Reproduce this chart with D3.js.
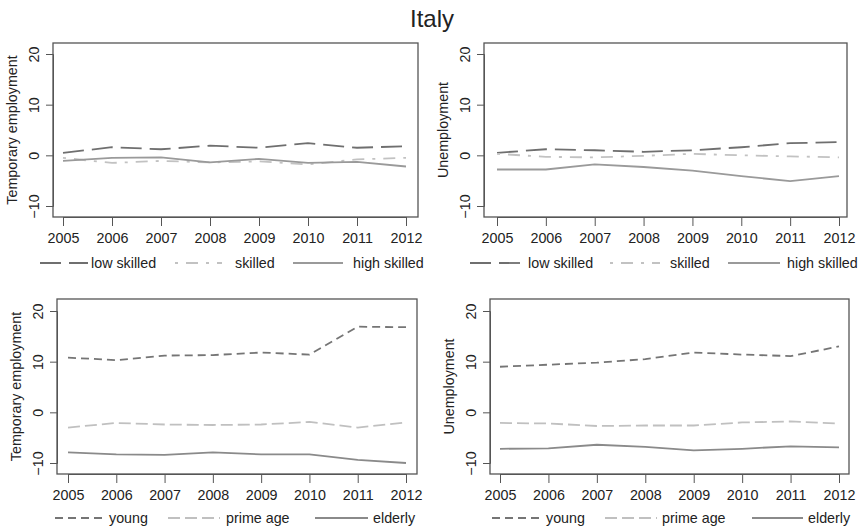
<!DOCTYPE html>
<html>
<head>
<meta charset="utf-8">
<script src="https://cdn.jsdelivr.net/npm/d3@7"></script>
<style>
  body { margin: 0; background: #fff; }
  text { font-family: "Liberation Sans", Arial, sans-serif; fill: #222; }
</style>
</head>
<body>
<div id="chart"></div>
<script>
var years = [2005, 2006, 2007, 2008, 2009, 2010, 2011, 2012];
var yTicks = [-10, 0, 10, 20];

// temporary employment by skill
var tempLow = [0.5, 1.6, 1.2, 1.9, 1.5, 2.4, 1.5, 1.8];
var tempSkilled = [-0.5, -1.5, -1.1, -1.4, -1.2, -1.8, -0.8, -0.5];
var tempHigh = [-1.1, -0.5, -0.4, -1.4, -0.7, -1.5, -1.3, -2.2];

// unemployment by skill
var unempLow = [0.5, 1.2, 1.0, 0.7, 1.0, 1.6, 2.4, 2.6];
var unempSkilled = [0.3, -0.3, -0.4, -0.1, 0.3, 0.0, -0.2, -0.4];
var unempHigh = [-2.8, -2.8, -1.8, -2.3, -3.0, -4.1, -5.1, -4.1];

// temporary employment by age
var tempYoung = [10.8, 10.3, 11.2, 11.3, 11.8, 11.4, 16.9, 16.8];
var tempPrime = [-3.0, -2.1, -2.4, -2.5, -2.4, -1.9, -3.0, -2.0];
var tempElderly = [-7.9, -8.3, -8.4, -7.9, -8.3, -8.3, -9.4, -10.0];

// unemployment by age
var unempYoung = [9.0, 9.4, 9.8, 10.5, 11.8, 11.4, 11.1, 13.0];
var unempPrime = [-2.1, -2.2, -2.7, -2.6, -2.6, -2.0, -1.8, -2.2];
var unempElderly = [-7.2, -7.1, -6.4, -6.8, -7.5, -7.2, -6.7, -6.9];

var skillNames = ["low skilled", "skilled", "high skilled"];
var ageNames = ["young", "prime age", "elderly"];

var width = 860, height = 528;
var fontSize = "14.3px";

var svg = d3.select("#chart").append("svg")
  .attr("width", width)
  .attr("height", height);

svg.append("text")
  .attr("x", 432)
  .attr("y", 27)
  .attr("text-anchor", "middle")
  .style("font-size", "24px")
  .text("Italy");

var skillStyles = [
  { color: "#6f6f6f", dash: "21,8" },
  { color: "#c2c2c2", dash: "3,8,12,8" },
  { color: "#9a9a9a", dash: null }
];
var ageStyles = [
  { color: "#757575", dash: "8,5" },
  { color: "#c0c0c0", dash: "12,5" },
  { color: "#8a8a8a", dash: null }
];

var panels = [
  { box: [53, 43, 418, 217], x0: 63, x1: 406, y20: 54, ym10: 206, title: "Temporary employment",
    series: [tempLow, tempSkilled, tempHigh], names: skillNames, styles: skillStyles,
    legend: [[40, 88, 91], [175, 222, 235], [293, 343, 353]], legY: 263 },
  { box: [484, 43, 847, 217], x0: 497, x1: 839, y20: 54, ym10: 206, title: "Unemployment",
    series: [unempLow, unempSkilled, unempHigh], names: skillNames, styles: skillStyles,
    legend: [[470, 525, 528], [610, 660, 670], [728, 780, 787]], legY: 263 },
  { box: [57, 299, 417, 474], x0: 68, x1: 406, y20: 311, ym10: 463, title: "Temporary employment",
    series: [tempYoung, tempPrime, tempElderly], names: ageNames, styles: ageStyles,
    legend: [[55, 103, 109], [168, 220, 226], [315, 368, 373]], legY: 518 },
  { box: [490, 299, 849, 474], x0: 500, x1: 839, y20: 311, ym10: 463, title: "Unemployment",
    series: [unempYoung, unempPrime, unempElderly], names: ageNames, styles: ageStyles,
    legend: [[492, 540, 546], [605, 657, 662], [752, 803, 808]], legY: 518 }
];

panels.forEach(function (p) {
  var g = svg.append("g");
  var x = d3.scaleLinear().domain([2005, 2012]).range([p.x0, p.x1]);
  var y = d3.scaleLinear().domain([-10, 20]).range([p.ym10, p.y20]);

  // lines
  p.series.forEach(function (vals, i) {
    var line = d3.line()
      .x(function (d, j) { return x(years[j]); })
      .y(function (d) { return y(d); });
    g.append("path")
      .datum(vals)
      .attr("d", line)
      .attr("fill", "none")
      .attr("stroke", p.styles[i].color)
      .attr("stroke-width", 1.8)
      .attr("stroke-dasharray", p.styles[i].dash);
  });

  // frame
  g.append("rect")
    .attr("x", p.box[0])
    .attr("y", p.box[1])
    .attr("width", p.box[2] - p.box[0])
    .attr("height", p.box[3] - p.box[1])
    .attr("fill", "none")
    .attr("stroke", "#555")
    .attr("stroke-width", 1.3);

  // x axis
  var xAxis = d3.axisBottom(x)
    .tickValues(years)
    .tickFormat(d3.format("d"))
    .tickSize(9)
    .tickPadding(7);
  var gx = g.append("g")
    .attr("transform", "translate(0," + p.box[3] + ")")
    .call(xAxis);
  gx.select(".domain").attr("stroke", "#555");
  gx.selectAll(".tick line").attr("stroke", "#555");
  gx.selectAll("text")
    .style("font-size", fontSize)
    .style("font-family", "'Liberation Sans', Arial, sans-serif")
    .attr("fill", "#222");

  // y axis
  var yAxis = d3.axisLeft(y)
    .tickValues(yTicks)
    .tickSize(7)
    .tickPadding(0);
  var gy = g.append("g")
    .attr("transform", "translate(" + p.box[0] + ",0)")
    .call(yAxis);
  gy.select(".domain").attr("stroke", "#555");
  gy.selectAll(".tick line").attr("stroke", "#555");
  gy.selectAll("text")
    .attr("x", 0)
    .attr("dy", null)
    .attr("transform", "translate(-14,0) rotate(-90)")
    .attr("text-anchor", "middle")
    .attr("fill", "#222")
    .style("font-size", fontSize)
    .style("font-family", "'Liberation Sans', Arial, sans-serif");

  g.append("text")
    .attr("transform", "translate(" + (p.box[0] - 36) + "," + ((p.box[1] + p.box[3]) / 2) + ") rotate(-90)")
    .attr("text-anchor", "middle")
    .style("font-size", fontSize)
    .text(p.title);

  // legend
  p.legend.forEach(function (l, i) {
    g.append("line")
      .attr("x1", l[0]).attr("x2", l[1])
      .attr("y1", p.legY).attr("y2", p.legY)
      .attr("stroke", p.styles[i].color)
      .attr("stroke-width", 1.8)
      .attr("stroke-dasharray", p.styles[i].dash);
    g.append("text")
      .attr("x", l[2])
      .attr("y", p.legY + 5)
      .style("font-size", fontSize)
      .text(p.names[i]);
  });
});
</script>
</body>
</html>
